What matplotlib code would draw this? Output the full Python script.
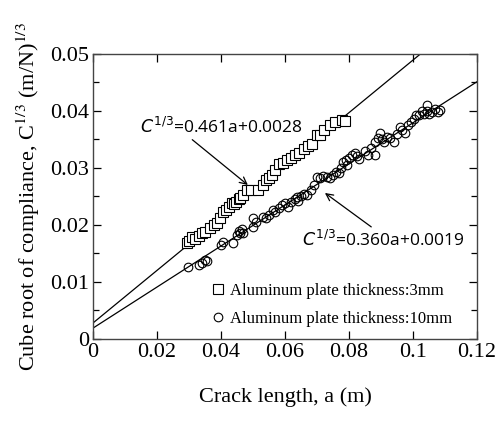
import numpy as np
import matplotlib
matplotlib.use("Agg")
import matplotlib.pyplot as plt
from matplotlib.ticker import MultipleLocator, FuncFormatter

plt.rcParams['font.family'] = 'Liberation Serif'
plt.rcParams['mathtext.fontset'] = 'stix'

# 3 mm plate (squares)
a_3mm = [0.0294, 0.0300, 0.0310, 0.0318, 0.0330, 0.0340, 0.0350, 0.0365, 0.0378, 0.0387,
         0.0397, 0.0406, 0.0415, 0.0425, 0.0434, 0.0440, 0.0446, 0.0455, 0.0460, 0.0470,
         0.0480, 0.0495, 0.0516, 0.0530, 0.0540, 0.0550, 0.0560, 0.0570, 0.0580, 0.0594,
         0.0606, 0.0620, 0.0630, 0.0645, 0.0660, 0.0672, 0.0684, 0.0700, 0.0710, 0.0722,
         0.0740, 0.0756, 0.0777, 0.0788]
c_3mm = [0.0168, 0.0172, 0.0179, 0.0176, 0.0181, 0.0186, 0.0188, 0.0195, 0.0200, 0.0204,
         0.0212, 0.0223, 0.0226, 0.0232, 0.0239, 0.0236, 0.0241, 0.0245, 0.0247, 0.0252,
         0.0261, 0.0262, 0.0261, 0.0270, 0.0279, 0.0283, 0.0288, 0.0297, 0.0307, 0.0309,
         0.0314, 0.0318, 0.0323, 0.0327, 0.0334, 0.0338, 0.0342, 0.0358, 0.0358, 0.0366,
         0.0375, 0.0380, 0.0384, 0.0383]

# 10 mm plate (circles)
a_10mm = [0.0297, 0.0330, 0.0340, 0.0350, 0.0355, 0.0400, 0.0405, 0.0438, 0.0450, 0.0460,
          0.0465, 0.0455, 0.0470, 0.0500, 0.0500, 0.0510, 0.0530, 0.0540, 0.0550, 0.0563,
          0.0570, 0.0580, 0.0590, 0.0600, 0.0610, 0.0620, 0.0630, 0.0640, 0.0637, 0.0650,
          0.0660, 0.0670, 0.0680, 0.0690, 0.0700, 0.0710, 0.0720, 0.0730, 0.0740, 0.0750,
          0.0760, 0.0770, 0.0775, 0.0780, 0.0790, 0.0800, 0.0795, 0.0810, 0.0820, 0.0825,
          0.0830, 0.0850, 0.0860, 0.0870, 0.0880, 0.0880, 0.0890, 0.0897, 0.0905, 0.0910,
          0.0920, 0.0930, 0.0940, 0.0950, 0.0960, 0.0965, 0.0975, 0.0985, 0.0995, 0.1005,
          0.1010, 0.1020, 0.1030, 0.1035, 0.1044, 0.1045, 0.1050, 0.1060, 0.1070, 0.1084,
          0.1080]
c_10mm = [0.0126, 0.0130, 0.0133, 0.0138, 0.0136, 0.0165, 0.0170, 0.0168, 0.0182, 0.0186,
          0.0192, 0.0190, 0.0186, 0.0196, 0.0212, 0.0205, 0.0214, 0.0212, 0.0218, 0.0226,
          0.0222, 0.0230, 0.0235, 0.0238, 0.0232, 0.0240, 0.0245, 0.0242, 0.0249, 0.0250,
          0.0255, 0.0252, 0.0261, 0.0270, 0.0284, 0.0282, 0.0285, 0.0284, 0.0282, 0.0288,
          0.0292, 0.0291, 0.0300, 0.0310, 0.0314, 0.0318, 0.0305, 0.0322, 0.0326, 0.0320,
          0.0316, 0.0330, 0.0322, 0.0335, 0.0323, 0.0345, 0.0352, 0.0361, 0.0350, 0.0345,
          0.0355, 0.0352, 0.0345, 0.0360, 0.0372, 0.0366, 0.0362, 0.0375, 0.0380, 0.0385,
          0.0392, 0.0393, 0.0400, 0.0395, 0.0411, 0.0400, 0.0395, 0.0398, 0.0403, 0.0402,
          0.0398]

# linear fits C^(1/3) = k*a + b
fit_3mm = (0.461, 0.0028)
fit_10mm = (0.360, 0.0019)

fig = plt.figure(figsize=(5.03, 4.21), dpi=100)
ax = fig.add_axes([0.185, 0.195, 0.763, 0.677])

xx = np.array([0.0, 0.12])
ax.plot(xx, fit_3mm[0]*xx + fit_3mm[1], color='black', lw=0.9, zorder=1)
ax.plot(xx, fit_10mm[0]*xx + fit_10mm[1], color='black', lw=0.9, zorder=1)

ax.plot(a_3mm, c_3mm, ls='none', marker='s', ms=6.8, mfc='white', mec='black', mew=0.8,
        label='Aluminum plate thickness:3mm', zorder=2)
ax.plot(a_10mm, c_10mm, ls='none', marker='o', ms=6.2, mfc='none', mec='black', mew=0.8,
        label='Aluminum plate thickness:10mm', zorder=2)

ax.set_xlim(0, 0.12)
ax.set_ylim(0, 0.05)
ax.xaxis.set_major_locator(MultipleLocator(0.02))
ax.yaxis.set_major_locator(MultipleLocator(0.01))
ax.yaxis.set_minor_locator(MultipleLocator(0.005))
fmt = FuncFormatter(lambda v, p: f'{v:g}')
ax.xaxis.set_major_formatter(fmt)
ax.yaxis.set_major_formatter(fmt)
ax.tick_params(which='both', direction='in', top=True, right=True, labelsize=16, pad=3)
ax.tick_params(which='major', length=6, width=0.9)
ax.tick_params(which='minor', length=4, width=0.9)
for s in ax.spines.values():
    s.set_color('#444444')
    s.set_linewidth(1.0)

ax.set_xlabel('Crack length, a (m)', fontsize=16, labelpad=18)
ax.set_ylabel('Cube root of compliance, C$^{1/3}$ (m/N)$^{1/3}$', fontsize=16, labelpad=6)

ann = dict(fontsize=12.5, family='Open Sans', math_fontfamily='dejavusans')
ax.annotate('$C^{1/3}$=0.461a+0.0028', xy=(0.0484, 0.0270), xytext=(0.0147, 0.0372),
            va='center', ha='left',
            arrowprops=dict(arrowstyle='->', color='black', lw=0.9, shrinkA=0, shrinkB=0,
                            relpos=(0.3, 0.0)), **ann)
ax.annotate('$C^{1/3}$=0.360a+0.0019', xy=(0.0725, 0.0256), xytext=(0.0653, 0.0174),
            va='center', ha='left',
            arrowprops=dict(arrowstyle='->', color='black', lw=0.9, shrinkA=0, shrinkB=0,
                            relpos=(0.45, 1.0)), **ann)

ax.legend(loc='lower right', frameon=False, fontsize=12, handlelength=0.8,
          handletextpad=0.3, borderaxespad=0.3, labelspacing=0.75,
          bbox_to_anchor=(0.965, 0.0))

fig.savefig('out.png', dpi=100)
